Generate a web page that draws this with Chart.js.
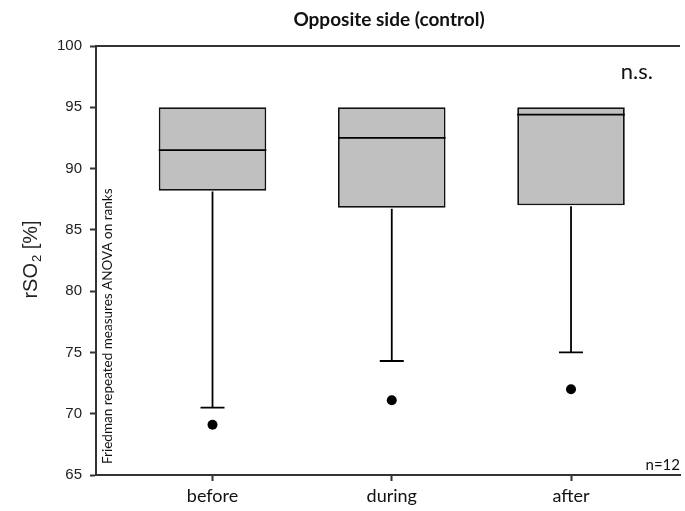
<!DOCTYPE html>
<html>
<head>
<meta charset="utf-8">
<script src="https://cdn.jsdelivr.net/npm/chart.js@4/dist/chart.umd.min.js"></script>
<style>
  html, body { margin: 0; padding: 0; background: #fff; }
  canvas { display: block; }
</style>
</head>
<body>
<canvas id="box-chart" width="685" height="511"></canvas>
<script>
// box plot values
var categories = ['before', 'during', 'after'];
var q1 = [88.2, 86.8, 87.0];
var median = [91.5, 92.5, 94.4];
var q3 = [95, 95, 95];
var whiskerLow = [70.5, 74.3, 75.0];
var outliers = [69.1, 71.1, 72.0];
var yTicks = [65, 70, 75, 80, 85, 90, 95, 100];

var titleText = 'Opposite side (control)';
var testText = 'Friedman repeated measures ANOVA on ranks';
var sigText = 'n.s.';
var nText = 'n=12';

var LABEL_FONT = 'Lato, "Open Sans", sans-serif';
var AXIS_FONT = '"Liberation Sans", Arial, sans-serif';

var boxExtras = {
  id: 'boxExtras',
  afterDatasetsDraw: function (chart) {
    var ctx = chart.ctx, x = chart.scales.x, y = chart.scales.y, a = chart.chartArea;
    ctx.save();
    ctx.strokeStyle = '#000';
    ctx.lineWidth = 1.8;
    categories.forEach(function (c, i) {
      var cx = x.getPixelForValue(i + 1);
      var bar = chart.getDatasetMeta(0).data[i];
      var half = bar.width / 2;
      // median
      var my = y.getPixelForValue(median[i]);
      ctx.beginPath();
      ctx.moveTo(cx - half, my); ctx.lineTo(cx + half, my);
      ctx.stroke();
      // lower whisker
      var top = y.getPixelForValue(q1[i]) + 0.9;
      var low = y.getPixelForValue(whiskerLow[i]);
      ctx.beginPath();
      ctx.moveTo(cx, top); ctx.lineTo(cx, low);
      ctx.moveTo(cx - 12, low); ctx.lineTo(cx + 12, low);
      ctx.stroke();
    });
    // top frame line
    ctx.strokeStyle = '#333';
    ctx.lineWidth = 2;
    ctx.beginPath();
    ctx.moveTo(a.left - 1, a.top); ctx.lineTo(a.right, a.top);
    ctx.stroke();

    ctx.fillStyle = '#111';
    // title
    ctx.font = 'bold 19px ' + LABEL_FONT;
    ctx.textAlign = 'center';
    ctx.textBaseline = 'middle';
    ctx.fillText(titleText, 389, 20);
    // n.s.
    ctx.font = '22px ' + LABEL_FONT;
    ctx.textAlign = 'right';
    ctx.fillText(sigText, 653, 72);
    // n=12
    ctx.font = '15px ' + LABEL_FONT;
    ctx.fillText(nText, 680, 465);
    // rotated test name
    ctx.save();
    ctx.translate(108, 464);
    ctx.rotate(-Math.PI / 2);
    ctx.font = '13.5px ' + LABEL_FONT;
    ctx.textAlign = 'left';
    ctx.fillText(testText, 0, 0);
    ctx.restore();
    // y axis title with subscript
    ctx.save();
    ctx.translate(31, 260);
    ctx.rotate(-Math.PI / 2);
    ctx.fillStyle = '#222';
    ctx.textAlign = 'left';
    ctx.textBaseline = 'middle';
    var big = '20px ' + AXIS_FONT, small = '13px ' + AXIS_FONT;
    ctx.font = big; var w1 = ctx.measureText('rSO').width;
    ctx.font = small; var w2 = ctx.measureText('2').width;
    ctx.font = big; var w3 = ctx.measureText(' [%]').width;
    var sx = -(w1 + w2 + w3) / 2;
    ctx.font = big; ctx.fillText('rSO', sx, 0);
    ctx.font = small; ctx.fillText('2', sx + w1 + 1, 6);
    ctx.font = big; ctx.fillText(' [%]', sx + w1 + w2 + 1, 0);
    ctx.restore();
    ctx.restore();
  }
};

new Chart(document.getElementById('box-chart').getContext('2d'), {
  type: 'bar',
  data: {
    datasets: [
      {
        type: 'bar',
        data: categories.map(function (c, i) { return { x: i + 1, y: [q1[i], q3[i]] }; }),
        backgroundColor: '#c0c0c0',
        borderColor: '#111',
        borderWidth: 1.8,
        borderSkipped: false,
        categoryPercentage: 1,
        barPercentage: 0.6
      },
      {
        type: 'scatter',
        data: categories.map(function (c, i) { return { x: i + 1, y: outliers[i] }; }),
        pointRadius: 5,
        pointBackgroundColor: '#000',
        pointBorderColor: '#000',
        pointBorderWidth: 0
      }
    ]
  },
  options: {
    responsive: false,
    animation: false,
    devicePixelRatio: 1,
    layout: { padding: { top: 46, right: 0, left: 0, bottom: 0 } },
    plugins: { legend: { display: false }, title: { display: false }, tooltip: { enabled: false } },
    scales: {
      x: {
        type: 'linear',
        offset: false,
        min: 0.35,
        max: 3.608,
        afterBuildTicks: function (s) { s.ticks = [1, 2, 3].map(function (v) { return { value: v }; }); },
        afterFit: function (s) { s.height = 36; },
        grid: { offset: false, drawOnChartArea: false, drawTicks: true, tickLength: 6, tickColor: '#333', tickWidth: 2 },
        border: { display: true, color: '#333', width: 2 },
        ticks: {
          padding: 4,
          color: '#111',
          font: { family: LABEL_FONT, size: 18 },
          callback: function (v) { return categories[v - 1]; }
        }
      },
      y: {
        min: 65,
        max: 100,
        afterBuildTicks: function (s) { s.ticks = yTicks.map(function (v) { return { value: v }; }); },
        afterFit: function (s) { s.width = 96; },
        grid: { drawOnChartArea: false, drawTicks: true, tickLength: 6, tickColor: '#333', tickWidth: 2 },
        border: { display: true, color: '#333', width: 2 },
        ticks: {
          padding: 8,
          color: '#222',
          font: { family: AXIS_FONT, size: 15 }
        }
      }
    }
  },
  plugins: [boxExtras]
});
</script>
</body>
</html>
